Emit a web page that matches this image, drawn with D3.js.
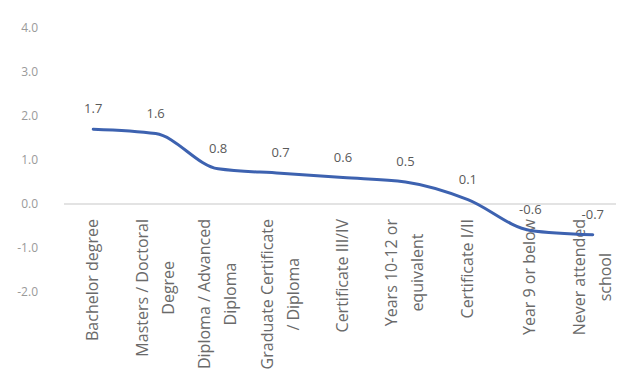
<!DOCTYPE html>
<html>
<head>
<meta charset="utf-8">
<script src="https://cdn.jsdelivr.net/npm/d3@7"></script>
<style>
  body { margin: 0; background: #fff; }
  text { font-family: "Open Sans", "Noto Sans", sans-serif; }
</style>
</head>
<body>
<svg width="622" height="388"></svg>
<script>
// data
let categories = [
  ['Bachelor degree'],
  ['Masters / Doctoral', 'Degree'],
  ['Diploma / Advanced', 'Diploma'],
  ['Graduate Certificate', '/ Diploma'],
  ['Certificate III/IV'],
  ['Years 10-12 or', 'equivalent'],
  ['Certificate I/II'],
  ['Year 9 or below'],
  ['Never attended', 'school']
];
let values = [1.7, 1.6, 0.8, 0.7, 0.6, 0.5, 0.1, -0.6, -0.7];
let yTicks = [4, 3, 2, 1, 0, -1, -2];

let svg = d3.select('svg');

let x = d3.scaleBand()
  .domain(d3.range(categories.length))
  .range([62, 624]);

let y = d3.scaleLinear()
  .domain([-2, 4])
  .range([292, 28]);

let fmt = d => d.toFixed(1); // plain hyphen for negatives, like the original

// y tick labels (no axis line)
svg.append('g')
  .selectAll('text')
  .data(yTicks)
  .enter().append('text')
    .attr('x', 38)
    .attr('y', d => y(d))
    .attr('dy', '0.35em')
    .attr('text-anchor', 'end')
    .attr('font-size', 12)
    .attr('fill', '#9a9a9a')
    .text(d => fmt(d));

// zero line
svg.append('line')
  .attr('x1', 64)
  .attr('x2', 616)
  .attr('y1', y(0))
  .attr('y2', y(0))
  .attr('stroke', '#dadada')
  .attr('stroke-width', 1.5);

let cx = i => x(i) + x.bandwidth() / 2;

// category labels, rotated, block aligned at top, lines centred
let catTop = 219;
let lineH = 26;
let cat = svg.append('g')
  .selectAll('g')
  .data(categories)
  .enter().append('g');

cat.each(function (lines, i) {
  let g = d3.select(this);
  let t = g.append('text')
    .attr('font-size', 16)
    .attr('fill', '#6a6a6a')
    .attr('text-anchor', 'middle');
  lines.forEach((l, j) => {
    t.append('tspan')
      .attr('x', 0)
      .attr('dy', j === 0 ? 0 : lineH)
      .text(l);
  });
  let maxLen = d3.max(t.selectAll('tspan').nodes(), n => n.getComputedTextLength());
  let xOff = cx(i) + 5 - (lines.length - 1) * lineH / 2;
  g.attr('transform', `translate(${xOff},${catTop + maxLen / 2}) rotate(-90)`);
});

// smoothed line
let line = d3.line()
  .x((d, i) => cx(i))
  .y(d => y(d))
  .curve(d3.curveMonotoneX);

svg.append('path')
  .datum(values)
  .attr('d', line)
  .attr('fill', 'none')
  .attr('stroke', '#3d62b0')
  .attr('stroke-width', 3)
  .attr('stroke-linecap', 'round');

// data labels
svg.append('g')
  .selectAll('text')
  .data(values)
  .enter().append('text')
    .attr('x', (d, i) => cx(i))
    .attr('y', d => y(d) - 16)
    .attr('text-anchor', 'middle')
    .attr('font-size', 13)
    .attr('fill', '#5a5a5a')
    .text(d => fmt(d));
</script>
</body>
</html>
